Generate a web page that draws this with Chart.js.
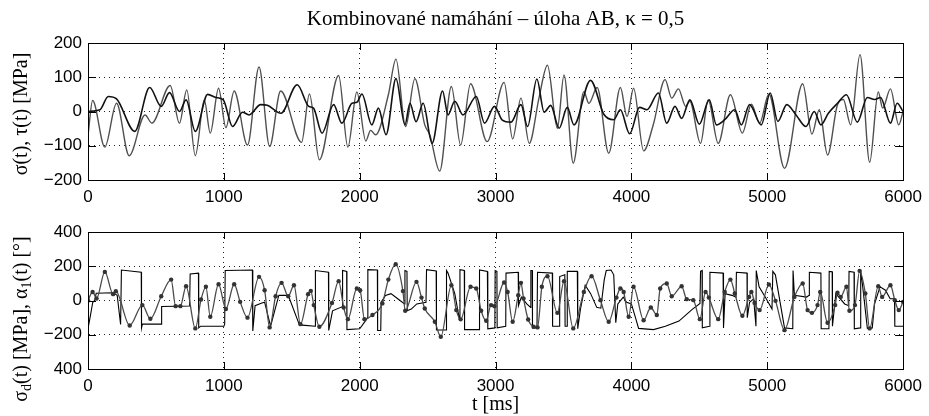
<!DOCTYPE html>
<html>
<head>
<meta charset="utf-8">
<script src="https://cdn.jsdelivr.net/npm/chart.js@4"></script>
<style>
  body { margin: 0; background: #fff; width: 929px; height: 416px; overflow: hidden; }
  .box { position: absolute; left: 0; width: 929px; height: 208px; }
</style>
</head>
<body>
<div class="box" style="top:0"><canvas id="top"></canvas></div>
<div class="box" style="top:208px"><canvas id="bottom"></canvas></div>
<script>
// values, [t in ms, value]
const sigma = [[0,-70],[34,32],[124,-104],[210,24],[303,-129],[420,-10],[470,-34],[605,76],[673,-34],[727,63],[790,-129],[856,34],[900,-63],[961,68],[1015,-47],[1076,60],[1174,-98],[1259,130],[1337,-102],[1418,60],[1572,-90],[1630,51],[1703,-141],[1845,105],[1913,-104],[1979,57],[2045,-86],[2080,-55],[2118,-68],[2211,49],[2267,153],[2338,-44],[2406,96],[2479,-39],[2516,-68],[2589,-174],[2675,73],[2743,-98],[2816,81],[2938,-88],[3063,85],[3126,-80],[3187,39],[3248,-93],[3320,40],[3382,135],[3455,-49],[3504,107],[3572,-151],[3650,58],[3687,24],[3748,70],[3833,-122],[3919,70],[3968,-15],[4016,68],[4090,-115],[4160,-40],[4248,93],[4297,39],[4346,66],[4400,15],[4430,30],[4509,-93],[4565,34],[4639,-93],[4729,49],[4817,-63],[4883,21],[4944,-34],[5012,51],[5127,-166],[5261,81],[5329,-66],[5383,5],[5444,-127],[5517,20],[5560,35],[5614,-39],[5683,166],[5754,-148],[5817,57],[5850,10],[5907,66],[5968,-39],[6000,0]];

const tau = [[0,0],[88,5],[149,44],[210,37],[344,-58],[454,70],[539,15],[600,55],[673,0],[722,34],[790,-58],[881,50],[942,41],[996,34],[1064,-44],[1137,-2],[1186,-10],[1271,20],[1320,18],[1420,-5],[1540,78],[1625,15],[1660,10],[1723,-63],[1808,20],[1869,-34],[1943,24],[1980,27],[2016,51],[2089,-39],[2138,10],[2194,-68],[2267,96],[2333,-39],[2370,24],[2415,-30],[2467,24],[2533,-93],[2610,60],[2650,-10],[2700,30],[2760,-10],[2858,44],[2919,-34],[2992,15],[3050,-25],[3114,-31],[3187,20],[3236,-44],[3304,95],[3358,-2],[3406,18],[3468,-49],[3528,12],[3577,-39],[3699,91],[3797,-8],[3870,-24],[3919,5],[3987,-65],[4060,12],[4114,5],[4199,54],[4260,-34],[4321,15],[4370,-20],[4431,34],[4500,-37],[4573,34],[4626,-39],[4687,-24],[4761,5],[4809,-39],[4870,20],[4956,-39],[5022,54],[5078,-29],[5144,20],[5212,-10],[5285,-44],[5346,0],[5395,-39],[5450,-5],[5517,24],[5583,49],[5663,-31],[5737,41],[5790,35],[5834,41],[5907,-34],[5956,24],[6000,0]];

const sigmaD = [[0,0],[34,50],[63,12],[124,167],[185,37],[205,54],[307,-146],[400,-27],[459,-107],[539,25],[612,122],[645,-33],[680,-33],[722,83],[790,-163],[832,6],[868,80],[900,-95],[961,95],[1015,-50],[1076,95],[1120,-8],[1174,-100],[1259,138],[1300,60],[1337,-157],[1381,25],[1425,103],[1474,25],[1516,89],[1564,-138],[1620,37],[1640,56],[1662,-27],[1703,-153],[1796,-14],[1845,113],[1882,-41],[1913,-109],[1979,70],[2003,60],[2035,-109],[2094,-85],[2167,-17],[2211,122],[2265,212],[2318,55],[2335,-60],[2418,109],[2455,17],[2479,-47],[2553,-124],[2597,-212],[2675,89],[2711,-56],[2743,-110],[2816,80],[2858,70],[2894,-60],[2931,-118],[2967,-27],[2992,-33],[3063,105],[3089,50],[3126,-124],[3167,31],[3187,103],[3206,12],[3240,-111],[3280,-153],[3309,-157],[3341,80],[3382,142],[3455,-72],[3504,113],[3572,-163],[3650,50],[3707,142],[3772,2],[3833,-124],[3890,17],[3919,70],[3943,50],[3980,-95],[4016,80],[4090,-115],[4143,-41],[4187,-85],[4212,70],[4260,99],[4297,25],[4370,83],[4407,8],[4456,2],[4504,-109],[4546,50],[4570,17],[4639,-109],[4687,50],[4729,122],[4761,41],[4817,-89],[4866,21],[4883,50],[4907,-14],[4944,-56],[5012,93],[5061,-2],[5127,-173],[5200,21],[5261,99],[5297,-56],[5329,-72],[5370,-27],[5390,50],[5444,-130],[5500,-27],[5517,45],[5541,21],[5583,80],[5605,-60],[5646,-27],[5680,173],[5722,41],[5754,-163],[5817,83],[5846,21],[5907,89],[5939,2],[5968,-56],[6000,-8]];

const alpha = [[0,-165],[15,-100],[35,-10],[50,0],[60,42],[185,45],[215,30],[240,-140],[246,178],[392,165],[394,-160],[400,-138],[538,-138],[542,-35],[748,-32],[752,155],[813,160],[815,-160],[830,-150],[1000,-150],[1006,-140],[1010,175],[1210,178],[1213,-178],[1230,-30],[1280,-15],[1300,-10],[1344,-150],[1405,31],[1474,30],[1552,-134],[1577,-144],[1672,-150],[1674,175],[1770,165],[1772,-175],[1800,-60],[1869,-37],[1872,-40],[1874,175],[1904,170],[1906,-170],[2000,-165],[2050,-110],[2058,-100],[2060,180],[2130,178],[2132,-175],[2155,-175],[2158,-10],[2190,30],[2230,40],[2280,10],[2330,-20],[2333,175],[2348,170],[2350,-60],[2380,-50],[2420,-20],[2488,-10],[2492,180],[2563,172],[2565,-172],[2637,-172],[2639,175],[2650,160],[2700,40],[2734,-110],[2738,180],[2770,175],[2772,-170],[2880,-170],[2882,178],[2940,170],[2943,-165],[2995,-160],[2997,175],[3010,170],[3012,-160],[3075,-150],[3077,160],[3167,165],[3169,-30],[3190,20],[3230,-20],[3258,-40],[3260,175],[3270,175],[3272,-160],[3305,-160],[3309,165],[3418,160],[3420,-150],[3470,-150],[3472,140],[3510,150],[3512,-150],[3526,-150],[3528,170],[3602,170],[3605,-165],[3625,-50],[3660,89],[3700,40],[3745,-40],[3775,-45],[3800,120],[3815,175],[3850,178],[3870,150],[3885,-130],[3900,-20],[3940,20],[3965,-10],[4000,-20],[4030,-100],[4053,-163],[4163,-170],[4250,-150],[4350,-120],[4450,-50],[4505,-17],[4509,170],[4520,175],[4522,-160],[4575,-150],[4578,165],[4675,160],[4678,-160],[4690,40],[4740,30],[4770,20],[4773,165],[4851,160],[4853,-100],[4870,-10],[4900,10],[4917,-150],[4919,175],[4940,80],[4985,20],[5035,-50],[5041,170],[5060,150],[5127,-160],[5188,-165],[5190,175],[5200,30],[5290,20],[5308,30],[5310,165],[5395,160],[5397,-165],[5454,-165],[5456,170],[5478,168],[5480,-150],[5505,40],[5570,-20],[5600,-30],[5602,170],[5639,165],[5641,-165],[5686,-160],[5688,172],[5700,100],[5737,-163],[5773,-160],[5790,-20],[5830,80],[5870,60],[5905,10],[5937,10],[5939,-150],[6000,-150]];

// tick labels of the lower plot, from -400 up to 400 (the bottom one has no minus in the original)
const bottomTickLabels = ['400', '\u2212200', '0', '200', '400'];

const tickFont = { family: 'Liberation Sans', size: 17 };
const labelFont = '20px "Liberation Serif"';
const titleFont = '21px "Liberation Serif"';
const subFont = '14px "Liberation Serif"';

function pts(arr) { return arr.map(p => ({ x: p[0], y: p[1] })); }
function minus(v) { return String(v).replace('-', '\u2212'); }

// draws label pieces rotated, [text, isSubscript]
function drawRotated(ctx, parts, cx, cy) {
  ctx.save();
  ctx.translate(cx, cy);
  ctx.rotate(-Math.PI / 2);
  ctx.fillStyle = '#000';
  ctx.textBaseline = 'middle';
  let w = 0;
  parts.forEach(p => { ctx.font = p[1] ? subFont : labelFont; w += ctx.measureText(p[0]).width; });
  let x = -w / 2;
  parts.forEach(p => {
    ctx.font = p[1] ? subFont : labelFont;
    ctx.fillText(p[0], x, p[1] ? 5 : 0);
    x += ctx.measureText(p[0]).width;
  });
  ctx.restore();
}

// box around the axes and inward tick marks, like matlab does
const frame = {
  id: 'frame',
  afterDatasetsDraw(chart) {
    const { ctx, chartArea: a, scales } = chart;
    ctx.save();
    ctx.strokeStyle = '#000';
    ctx.lineWidth = 1;
    ctx.strokeRect(Math.round(a.left) + .5, Math.round(a.top) + .5, Math.round(a.width), Math.round(a.height));
    ctx.beginPath();
    scales.x.ticks.forEach(t => {
      const p = Math.round(scales.x.getPixelForValue(t.value)) + .5;
      ctx.moveTo(p, a.top); ctx.lineTo(p, a.top + 7);
      ctx.moveTo(p, a.bottom); ctx.lineTo(p, a.bottom - 7);
    });
    scales.y.ticks.forEach(t => {
      const p = Math.round(scales.y.getPixelForValue(t.value)) + .5;
      ctx.moveTo(a.left, p); ctx.lineTo(a.left + 8, p);
      ctx.moveTo(a.right, p); ctx.lineTo(a.right - 8, p);
    });
    ctx.stroke();
    ctx.restore();
  }
};

function makeOptions(pad, xHeight, yMin, yMax, yStep, yCallback) {
  return {
    animation: false,
    responsive: true,
    maintainAspectRatio: false,
    layout: { padding: pad },
    plugins: { legend: { display: false }, tooltip: { enabled: false } },
    scales: {
      x: {
        type: 'linear', min: 0, max: 6000,
        ticks: { stepSize: 1000, font: tickFont, color: '#000', padding: 7, maxRotation: 0, callback: v => String(v) },
        grid: { color: '#222', lineWidth: 1, drawTicks: false },
        border: { color: '#000', dash: [1, 4] },
        afterFit: s => { s.height = xHeight; }
      },
      y: {
        min: yMin, max: yMax,
        ticks: { stepSize: yStep, font: tickFont, color: '#000', padding: 6, callback: yCallback },
        grid: { color: '#222', lineWidth: 1, drawTicks: false },
        border: { color: '#000', dash: [1, 4] },
        afterFit: s => { s.width = 88; }
      }
    }
  };
}

new Chart(document.getElementById('top'), {
  type: 'line',
  data: {
    datasets: [
      { label: 'tau', data: pts(tau), borderColor: '#111', borderWidth: 1.6, pointRadius: 0, cubicInterpolationMode: 'monotone' },
      { label: 'sigma', data: pts(sigma), borderColor: '#505050', borderWidth: 1.4, pointRadius: 0, cubicInterpolationMode: 'monotone' }
    ]
  },
  options: makeOptions({ top: 43, right: 21, left: 0, bottom: 0 }, 28, -200, 200, 100, v => minus(v)),
  plugins: [frame, {
    id: 'texts',
    afterDraw(chart) {
      const { ctx, chartArea: a } = chart;
      ctx.save();
      ctx.font = titleFont;
      ctx.fillStyle = '#000';
      ctx.textAlign = 'center';
      ctx.textBaseline = 'middle';
      ctx.fillText('Kombinované namáhání – úloha AB, κ = 0,5', (a.left + a.right) / 2, 19);
      ctx.restore();
      drawRotated(ctx, [['σ(t), τ(t) [MPa]', 0]], 22, 114);
    }
  }]
});

new Chart(document.getElementById('bottom'), {
  type: 'line',
  data: {
    datasets: [
      { label: 'sigma_d', data: pts(sigmaD), borderColor: '#4a4a4a', borderWidth: 1.3, pointRadius: 2.2, pointBackgroundColor: '#333', pointBorderWidth: 0, cubicInterpolationMode: 'monotone' },
      { label: 'alpha_1', data: pts(alpha), borderColor: '#000', borderWidth: 1.1, pointRadius: 0, tension: 0 }
    ]
  },
  options: makeOptions({ top: 24, right: 21, left: 0, bottom: 0 }, 47, -400, 400, 200, v => bottomTickLabels[Math.round((v + 400) / 200)]),
  plugins: [frame, {
    id: 'texts',
    afterDraw(chart) {
      const { ctx, chartArea: a } = chart;
      ctx.save();
      ctx.font = labelFont;
      ctx.fillStyle = '#000';
      ctx.textAlign = 'center';
      ctx.textBaseline = 'middle';
      ctx.fillText('t [ms]', (a.left + a.right) / 2, 197);
      ctx.restore();
      drawRotated(ctx, [['σ', 0], ['d', 1], ['(t) [MPa], α', 0], ['1', 1], ['(t) [°]', 0]], 22, 111);
    }
  }]
});
</script>
</body>
</html>
